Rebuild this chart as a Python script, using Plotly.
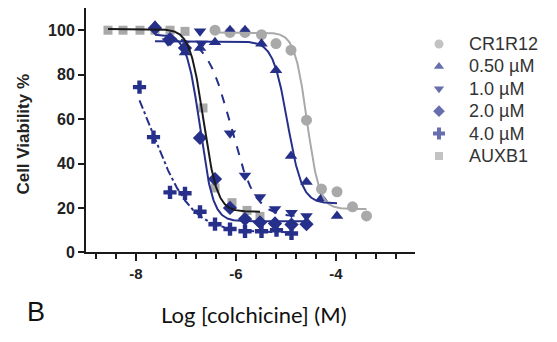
import numpy as np
import plotly.graph_objects as go

# ---------------- data ----------------
cr1r12_x = [-6.42, -6.12, -5.82, -5.49, -5.20, -4.90, -4.59, -4.29, -3.98, -3.67, -3.39]
cr1r12_y = [100, 99, 99, 98, 94, 91, 59.5, 28.5, 27.3, 20.5, 16.4]

c050_x = [-7.62, -7.02, -6.72, -6.42, -6.12, -5.82, -5.49, -5.20, -4.90, -4.59, -4.29, -3.98]
c050_y = [102, 90, 92, 94.6, 100, 100, 93.9, 82, 43.4, 31.7, 24.4, 16.4]

c10_x = [-7.36, -6.72, -6.69, -6.12, -5.82, -5.52, -5.22, -4.89, -4.59]
c10_y = [95, 99.5, 94, 53.6, 34.6, 24.9, 19.5, 17.8, 16.4]

c20_x = [-7.62, -7.32, -7.02, -6.72, -6.42, -6.12, -5.82, -5.52, -5.22, -4.89, -4.59]
c20_y = [101, 96, 92, 51.5, 33, 20, 15, 13.5, 13, 12.5, 12.7]

c40_x = [-7.93, -7.65, -7.32, -7.02, -6.72, -6.42, -6.12, -5.82, -5.49, -5.19, -4.89]
c40_y = [74.4, 51.9, 27, 26.6, 18.3, 12.7, 10.5, 9.5, 9.5, 10, 8.5]

auxb1_x = [-8.56, -8.26, -7.92, -7.62, -7.32, -7.02, -6.66, -6.42, -6.08, -5.78, -5.52]
auxb1_y = [100, 100, 100, 100, 100, 99.5, 65, 29, 22.4, 18.9, 16.2]

# fitted sigmoid parameters: top, bottom, logIC50, hill, x-from, x-to
fit_cr1r12 = (99, 19.5, -4.58, 3.5, -6.42, -3.39)
fit_050 = (95, 22, -4.97, 3.0, -7.62, -3.98)
fit_10 = (97, 16, -6.10, 1.8, -7.1, -4.59)
fit_20 = (98, 14, -6.72, 3.3, -7.62, -4.59)
fit_40 = (100, 9, -7.68, 1.1, -7.93, -4.89)
fit_auxb1 = (100.5, 18.3, -6.65, 3.2, -8.56, -5.52)

legend_names = ["CR1R12", "0.50 µM", "1.0 µM", "2.0 µM", "4.0 µM", "AUXB1"]
x_tickvals = [-8, -6, -4]
y_tickvals = [0, 20, 40, 60, 80, 100]

NAVY = "#26308a"
GRAY = "#a9a9a9"
BLACK = "#1a1a1a"
W, H = 557, 342
OFF = 8  # page body margin: the figure is drawn 8px right/down of the window corner
# target plot-area pixel box in the window
PX_L, PX_R, PX_T, PX_B = 86 - OFF, 415 - OFF, 8 - OFF, 259 - OFF
FONT = "Arial"


def P(px, py):
    """window pixel -> figure-paper pixel"""
    return px - OFF, py - OFF


def curve(p):
    top, bottom, ic50, hill, x0, x1 = p
    xs = np.linspace(x0, x1, 300)
    ys = bottom + (top - bottom) / (1 + 10 ** (hill * (xs - ic50)))
    return xs, ys


fig = go.Figure()

series = [
    ("CR1R12", cr1r12_x, cr1r12_y, fit_cr1r12, GRAY, "circle", 11, "solid", GRAY),
    ("AUXB1", auxb1_x, auxb1_y, fit_auxb1, GRAY, "square", 9, "solid", BLACK),
    ("0.50 µM", c050_x, c050_y, fit_050, NAVY, "triangle-up", 11, "solid", NAVY),
    ("1.0 µM", c10_x, c10_y, fit_10, NAVY, "triangle-down", 11, "dash", NAVY),
    ("2.0 µM", c20_x, c20_y, fit_20, NAVY, "diamond", 11, "solid", NAVY),
    ("4.0 µM", c40_x, c40_y, fit_40, NAVY, "cross", 11, "dashdot", NAVY),
]

for name, xs, ys, fit, col, sym, sz, dash, lcol in series:
    fig.add_trace(go.Scatter(x=xs, y=ys, mode="markers", name=name, showlegend=False,
                             marker=dict(symbol=sym, size=sz, color=col, line=dict(width=0)),
                             cliponaxis=False))
for name, xs, ys, fit, col, sym, sz, dash, lcol in series:
    if lcol == BLACK:
        continue
    cx, cy = curve(fit)
    fig.add_trace(go.Scatter(x=cx, y=cy, mode="lines", showlegend=False,
                             line=dict(color=lcol, width=2, dash=dash)))
cx, cy = curve(fit_auxb1)
fig.add_trace(go.Scatter(x=cx, y=cy, mode="lines", showlegend=False,
                         line=dict(color=BLACK, width=2)))

# manual legend on a full-figure helper axis pair (pixel coordinates)
leg_y = [45, 68, 91, 114, 137, 160]
leg_sym = ["circle", "triangle-up", "triangle-down", "diamond", "cross", "square"]
leg_col = [GRAY, NAVY, NAVY, NAVY, NAVY, GRAY]
leg_size = [9, 9, 9, 9, 10, 8]
fig.add_trace(go.Scatter(x=[P(439, 0)[0]] * 6, y=[P(0, v)[1] for v in leg_y], mode="markers",
                         xaxis="x2", yaxis="y2", showlegend=False, cliponaxis=False,
                         marker=dict(symbol=leg_sym, color=leg_col, size=leg_size, line=dict(width=0))))

annotations = []
for name, yy in zip(legend_names, leg_y):
    ax, ay = P(467, yy)
    annotations.append(dict(x=ax, y=ay, xref="x2", yref="y2", text=name,
                            showarrow=False, xanchor="left", yanchor="middle",
                            font=dict(family=FONT, size=18, color="#333333")))
ax, ay = P(24, 138)
annotations.append(dict(x=ax, y=ay, xref="x2", yref="y2", text="Cell Viability %", showarrow=False,
                        textangle=-90, xanchor="center", yanchor="middle",
                        font=dict(family=FONT, size=17, color="#222222", weight="bold")))
ax, ay = P(254, 323)
annotations.append(dict(x=ax, y=ay, xref="x2", yref="y2", text="Log [colchicine] (M)", showarrow=False,
                        xanchor="center", yanchor="middle",
                        font=dict(family="Lato", size=22, color="#111111")))
ax, ay = P(36, 320)
annotations.append(dict(x=ax, y=ay, xref="x2", yref="y2", text="B", showarrow=False,
                        xanchor="center", yanchor="middle",
                        font=dict(family=FONT, size=27, color="#111111")))

fig.update_layout(
    width=W, height=H,
    margin=dict(l=0, r=0, t=0, b=0),
    paper_bgcolor="white", plot_bgcolor="rgba(0,0,0,0)",
    showlegend=False,
    annotations=annotations,
    xaxis=dict(domain=[PX_L / W, PX_R / W], range=[-9, -2.42], tickvals=x_tickvals, ticktext=["-8", "-6", "-4"],
               showgrid=False, zeroline=False, showline=True, linecolor=BLACK, linewidth=2,
               ticks="outside", ticklen=7, tickwidth=2, tickcolor=BLACK,
               minor=dict(dtick=0.4, tick0=-8, ticks="outside", ticklen=5, tickwidth=2, tickcolor=BLACK, showgrid=False),
               tickfont=dict(family=FONT, size=15, color="#222222", weight="bold")),
    yaxis=dict(domain=[1 - PX_B / H, 1 - PX_T / H], range=[0, 110], tickvals=y_tickvals,
               showgrid=False, zeroline=False, showline=True, linecolor=BLACK, linewidth=2,
               ticks="outside", ticklen=6, tickwidth=2, tickcolor=BLACK,
               tickfont=dict(family=FONT, size=16, color="#222222", weight="bold")),
    xaxis2=dict(domain=[0, 1], range=[0, W], anchor="y2", visible=False, fixedrange=True),
    yaxis2=dict(domain=[0, 1], range=[H, 0], anchor="x2", visible=False, fixedrange=True),
)

fig.write_html("out.html")
